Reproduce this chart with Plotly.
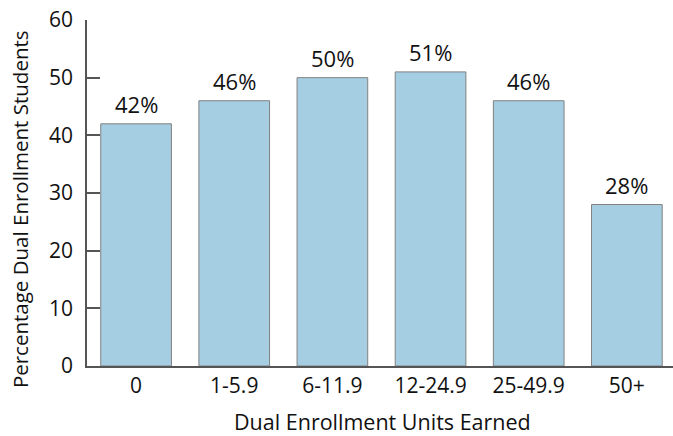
import plotly.graph_objects as go

categories = ["0", "1-5.9", "6-11.9", "12-24.9", "25-49.9", "50+"]
values = [42, 46, 50, 51, 46, 28]
labels = ["42%", "46%", "50%", "51%", "46%", "28%"]
y_ticks = [0, 10, 20, 30, 40, 50, 60]

FONT = "Open Sans"
fig = go.Figure()
fig.add_trace(go.Bar(
    x=list(range(len(categories))), y=values,
    marker=dict(color="#a6cee3", line=dict(color="#808080", width=1)),
    width=0.72,
))

for i, (v, t) in enumerate(zip(values, labels)):
    fig.add_annotation(x=i, y=v, text=t, showarrow=False, yanchor="bottom",
                       yshift=3, font=dict(family=FONT, size=22, color="#111"))

fig.add_annotation(xref="paper", yref="paper", x=-0.114, y=0.454,
                   text="Percentage Dual Enrollment Students", textangle=-90,
                   showarrow=False, xanchor="center", yanchor="middle",
                   font=dict(family=FONT, size=20.5, color="#111"))
fig.add_annotation(xref="paper", yref="paper", x=0.505, y=-0.159,
                   text="Dual Enrollment Units Earned",
                   showarrow=False, xanchor="center", yanchor="middle",
                   font=dict(family=FONT, size=21.5, color="#111"))

fig.update_layout(
    width=673, height=436,
    margin=dict(l=87, r=0, t=20, b=70),
    plot_bgcolor="white", paper_bgcolor="white",
    showlegend=False,
    font=dict(family=FONT, size=21, color="#111"),
)
fig.update_xaxes(
    range=[-0.5, 5.47], tickmode="array",
    tickvals=list(range(len(categories))), ticktext=categories,
    showline=True, linecolor="#555", linewidth=1.5,
    ticks="", showgrid=False, zeroline=False,
    tickfont=dict(family=FONT, size=21, color="#111"),
)
fig.update_yaxes(
    range=[0, 60], tickmode="array", tickvals=y_ticks,
    showline=True, linecolor="#555", linewidth=1.5,
    ticks="inside", ticklen=13, tickcolor="#555", tickwidth=1.5,
    showgrid=False, zeroline=False, ticklabelstandoff=8,
    tickfont=dict(family=FONT, size=21, color="#111"),
)

fig.write_html("out.html")
